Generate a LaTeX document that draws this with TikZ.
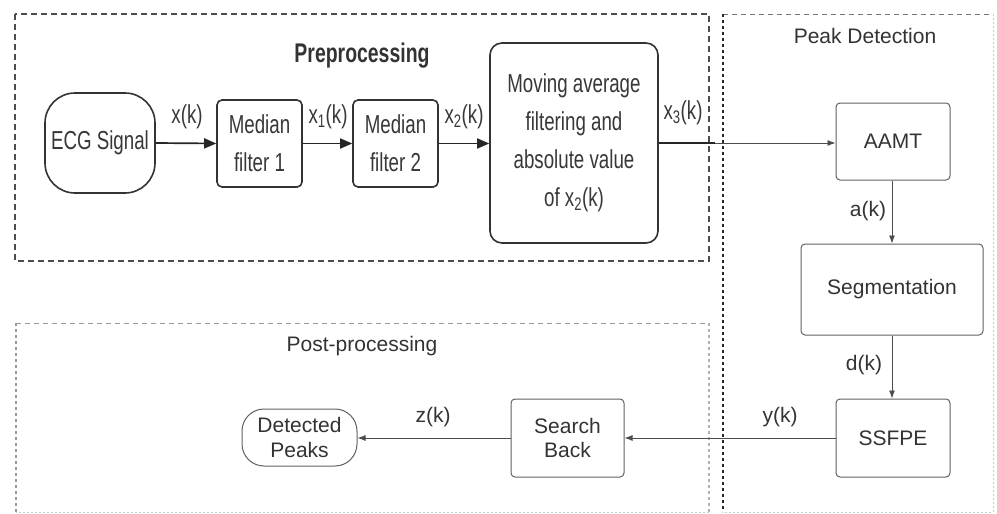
\documentclass[tikz,border=0pt]{standalone}
\usepackage{fontspec}
\setmainfont{Liberation Sans}
\newfontfamily\narrowfont{Liberation Sans}[FakeStretch=0.72]
\usetikzlibrary{arrows.meta}
\begin{document}
\begin{tikzpicture}[x=1pt,y=-1pt,
  prebox/.style={draw=black!80, line width=1.6pt, rounded corners=5pt, inner sep=0pt,
    align=center, text=black!78, font=\narrowfont\fontsize{26}{38}\selectfont},
  pdbox/.style={draw=black!62, line width=1pt, rounded corners=4pt, inner sep=0pt,
    align=center, text=black!80, font=\fontsize{21}{24.5}\selectfont},
  prearrow/.style={draw=black!85, line width=1.7pt, -{Triangle[length=12pt,width=10pt]}},
  thinarrow/.style={draw=black!70, line width=0.9pt, -{Latex[length=8pt,width=6pt]}},
  prelabel/.style={inner sep=0pt, text=black!78, font=\narrowfont\fontsize{26}{28}\selectfont},
  pdlabel/.style={inner sep=0pt, text=black!80, font=\fontsize{21}{24}\selectfont},
  title/.style={inner sep=0pt, text=black!80, font=\fontsize{21}{24}\selectfont}
]
\useasboundingbox (0,0) rectangle (997,514);
\fill[white] (0,0) rectangle (997,514);

% group frames
\draw[black!70, line width=1.3pt, dash pattern=on 6pt off 4pt] (15,14) rectangle (709,261);
\coordinate (pdtl) at (723,14);
\coordinate (pdtr) at (993,14);
\coordinate (pdbr) at (993,512);
\coordinate (pdbl) at (723,512);
\draw[black!55, line width=1pt, dash pattern=on 5pt off 4pt] (pdtl) -- (pdtr);
\draw[black!20, line width=0.8pt, dash pattern=on 2pt off 2pt] (pdtr) -- (pdbr) -- (pdbl);
\draw[black!85, line width=1.6pt, dash pattern=on 3pt off 3pt] (pdtl) -- (pdbl);
\coordinate (pptl) at (16,323);
\coordinate (pptr) at (709,323);
\coordinate (ppbr) at (709,512);
\coordinate (ppbl) at (16,512);
\draw[black!40, line width=1pt, dash pattern=on 5pt off 4pt] (pptl) -- (pptr);
\draw[black!30, line width=1.3pt, dash pattern=on 3pt off 3pt] (pptr) -- (ppbr);
\draw[black!20, line width=0.8pt, dash pattern=on 2pt off 2pt] (ppbr) -- (ppbl);
\draw[black!40, line width=1.3pt, dash pattern=on 3pt off 3pt] (ppbl) -- (pptl);

% titles
\node[inner sep=0pt, text=black!80, font=\narrowfont\bfseries\fontsize{27}{30}\selectfont] (tpre) at (362,56) {Preprocessing};
\node[title] (tpd) at (865,36) {Peak Detection};
\node[title] (tpost) at (362,346) {Post-processing};

% preprocessing nodes
\node[prebox, rounded corners=30pt, minimum width=110pt, minimum height=100pt] (ecg) at (100,143) {ECG Signal};
\node[prebox, minimum width=85pt, minimum height=87pt] (mf1) at (259.5,143.5) {Median\\filter 1};
\node[prebox, minimum width=85pt, minimum height=87pt] (mf2) at (395.5,143.5) {Median\\filter 2};
\node[prebox, rounded corners=12pt, minimum width=168pt, minimum height=200pt] (ma) at (574,143) {Moving average\\filtering and\\absolute value\\of x\textsubscript{2}(k)};

% peak detection nodes
\node[pdbox, minimum width=114pt, minimum height=77pt] (aamt) at (893,141.5) {AAMT};
\node[pdbox, minimum width=182pt, minimum height=91pt] (seg) at (892,289.5) {Segmentation};
\node[pdbox, minimum width=114pt, minimum height=78pt] (ssfpe) at (893,438) {SSFPE};

% post-processing nodes
\node[pdbox, minimum width=113pt, minimum height=78pt] (sb) at (567.5,438) {Search\\Back};
\node[pdbox, rounded corners=22pt, minimum width=115pt, minimum height=57pt] (dp) at (299.5,437.5) {Detected\\Peaks};

% connectors
\draw[prearrow] (ecg.east) -- (mf1.west);
\draw[prearrow] (mf1.west -| mf1.east) -- (mf2.west);
\draw[prearrow] (mf2.east) -- (ma.west |- mf2.east);
\coordinate (thickend) at (715,143);
\draw[thinarrow] (ma.east) -- (aamt.west |- ma.east);
\draw[black!85, line width=1.7pt] (ma.east) -- (thickend);
\draw[thinarrow] (aamt.south -| seg.north) -- (seg.north);
\draw[thinarrow] (seg.south) -- (ssfpe.north -| seg.south);
\draw[thinarrow] (ssfpe.west) -- (sb.east);
\draw[thinarrow] (sb.west) -- (dp.east |- sb.west);

% connector labels
\node[prelabel] (lx) at (187,117) {x(k)};
\node[prelabel] (lx1) at (328,117) {x\textsubscript{1}(k)};
\node[prelabel] (lx2) at (464,117) {x\textsubscript{2}(k)};
\node[prelabel] (lx3) at (683,113) {x\textsubscript{3}(k)};
\node[pdlabel] (la) at (868,211) {a(k)};
\node[pdlabel] (ld) at (864,365) {d(k)};
\node[pdlabel] (ly) at (780,417) {y(k)};
\node[pdlabel] (lz) at (433,417) {z(k)};
\end{tikzpicture}
\end{document}
